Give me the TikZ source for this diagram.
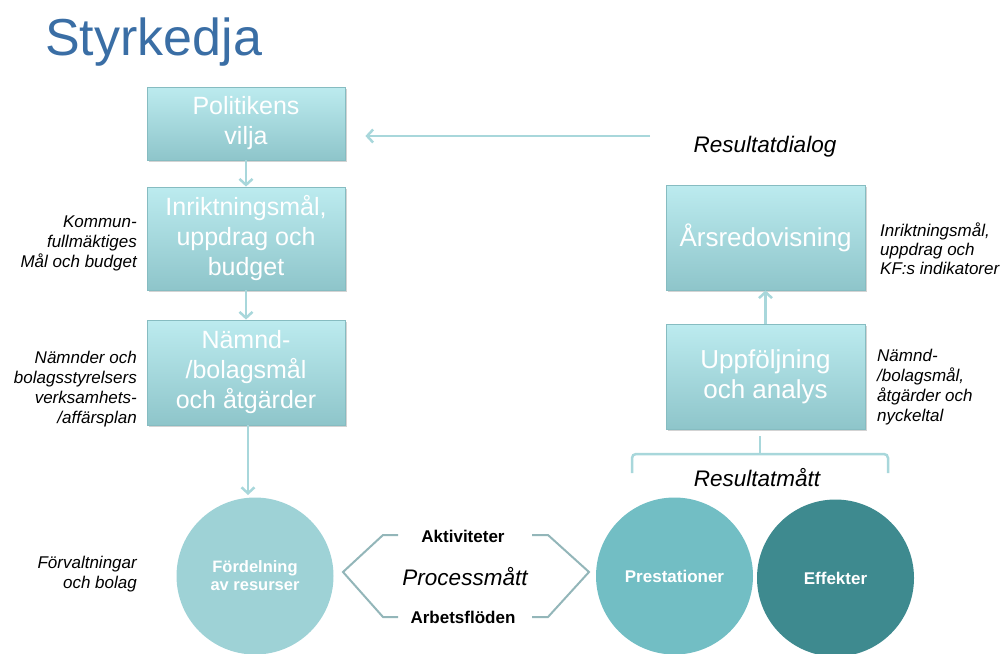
\documentclass[tikz,border=0pt]{standalone}
\usepackage{fontspec}
\setmainfont{Liberation Sans}
\usetikzlibrary{shadows,arrows.meta}

\definecolor{titleblue}{HTML}{3A6EA5}
\definecolor{boxtop}{HTML}{BCEBEF}
\definecolor{boxbot}{HTML}{8EC5CA}
\definecolor{boxedge}{HTML}{86BCC1}
\definecolor{linkcol}{HTML}{A8D7DB}
\definecolor{brackcol}{HTML}{93B6B9}
\definecolor{resurscol}{HTML}{9ED2D6}
\definecolor{prestcol}{HTML}{72BEC4}
\definecolor{effektcol}{HTML}{3E8A8F}

\begin{document}
\begin{tikzpicture}[x=1pt, y=-1pt,
  stepbox/.style={rectangle, minimum width=198pt, top color=boxtop, bottom color=boxbot,
    draw=boxedge, line width=0.8pt, text=white, align=center,
    drop shadow={opacity=0.35, shadow xshift=1.5pt, shadow yshift=-2pt},
    font=\fontsize{25}{30}\selectfont},
  ball/.style={circle, minimum size=157pt, inner sep=0pt, text=white, align=center,
    font=\fontsize{17}{19}\selectfont\bfseries},
  link/.style={linkcol, line width=2.5pt, -{Straight Barb[length=6pt,width=13pt]}},
  note/.style={font=\fontsize{17}{20}\selectfont\itshape, inner sep=0pt},
  bracket/.style={brackcol, line width=2pt},
  measure/.style={font=\fontsize{22.5}{26}\selectfont\itshape, inner sep=0pt}]
  \useasboundingbox (0,0) rectangle (1006,653);

  \node[anchor=base west, inner sep=0pt, text=titleblue, font=\fontsize{52}{60}\selectfont]
    (titel) at (45,55) {Styrkedja};

  % left chain
  \node[stepbox, minimum height=73pt] (vilja) at (246,123.5) {Politikens\\vilja};
  \node[stepbox, minimum height=103pt] (inrikt) at (246,238.5) {Inriktningsmål,\\uppdrag och\\budget};
  \node[stepbox, minimum height=105pt] (namnd) at (246,372.5) {Nämnd-\\/bolagsmål\\och åtgärder};
  \node[ball, fill=resurscol, font=\fontsize{16.5}{18}\selectfont\bfseries] (resurs) at (255,576) {Fördelning\\av resurser};

  \draw[link] (vilja) -- (inrikt);
  \draw[link] (inrikt) -- (namnd);
  \draw[link] (namnd.south -| 248,0) -- (248,495);

  \node[note, anchor=east, align=right] (kf) at (137,243) {Kommun-\\fullmäktiges\\Mål och budget};
  \node[note, anchor=east, align=right] (styrelse) at (137,389) {Nämnder och\\bolagsstyrelsers\\verksamhets-\\/affärsplan};
  \node[note, anchor=east, align=right] (forv) at (137,574) {Förvaltningar\\och bolag};

  % right chain
  \node[stepbox, minimum width=199pt, minimum height=105pt, font=\fontsize{26}{30}\selectfont] (ars) at (765.5,237.5) {Årsredovisning};
  \node[stepbox, minimum width=199pt, minimum height=105pt, font=\fontsize{26}{30}\selectfont] (uppf) at (765.5,376.5) {Uppföljning\\och analys};
  \draw[link] (uppf) -- (ars);

  \node[ball, fill=prestcol] (prest) at (674.5,576) {Prestationer};
  \node[ball, fill=effektcol] (effekt) at (835.5,578) {Effekter};

  \node[note, anchor=west, align=left, font=\fontsize{17}{19}\selectfont\itshape] (kfind) at (880,249) {Inriktningsmål,\\uppdrag och\\KF:s indikatorer};
  \node[note, anchor=west, align=left] (nyckel) at (877,387) {Nämnd-\\/bolagsmål,\\åtgärder och\\nyckeltal};

  % Resultatdialog
  \coordinate (dlg) at (650,136);
  \draw[link] (dlg) -- ([xshift=20pt]dlg -| vilja.east);
  \node[measure] (dialog) at (765,147) {Resultatdialog};

  % Resultatmått brace
  \draw[bracket, linkcol, line width=2.5pt, rounded corners=4pt]
    (632,473) -- (632,454) -- (888,454) -- (888,473);
  \draw[linkcol, line width=2.5pt] (760,436) -- (760,454);
  \node[measure] (resmatt) at (757,478) {Resultatmått};

  % Processmått
  \node[font=\fontsize{17}{20}\selectfont\bfseries] (aktiv) at (463,536) {Aktiviteter};
  \node[measure] (process) at (465,577) {Processmått};
  \node[font=\fontsize{17}{20}\selectfont\bfseries] (arbete) at (463,617) {Arbetsflöden};
  \draw[bracket] (398,535) -- (383,535) -- (343,572) -- (383,617) -- (398,617);
  \draw[bracket] (532,535) -- (548,535) -- (589,572) -- (548,617) -- (532,617);
\end{tikzpicture}
\end{document}
